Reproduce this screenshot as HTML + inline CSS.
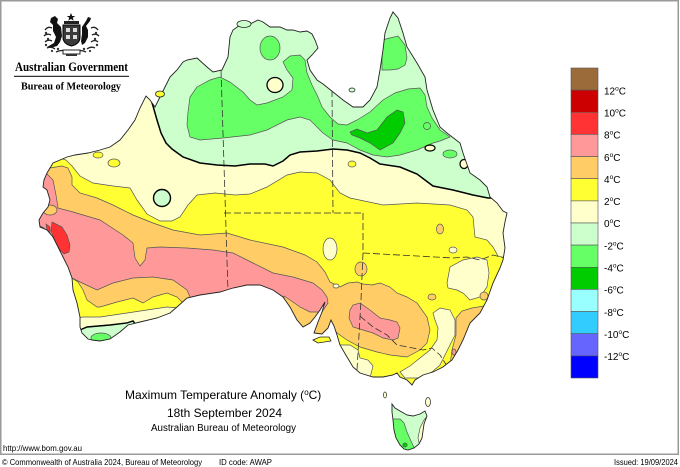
<!DOCTYPE html>
<html><head><meta charset="utf-8"><style>
html,body{margin:0;padding:0;background:#fff;}
svg{display:block;}
</style></head><body>
<svg width="680" height="467" viewBox="0 0 680 467" xmlns="http://www.w3.org/2000/svg">
<defs>
<clipPath id="aus"><path id="ausp" d="M80,327 L80,317 L77,303 L73,290 L72,278 L68,267 L63,257 L58,247 L53,237 L47,230 L40,227 L39,220 L43,213 L48,207 L50,200 L47,190 L43,187 L44,180 L47,173 L50,168 L53,163 L60,160 L67,157 L75,155 L88,153 L100,150 L110,147 L120,140 L128,130 L135,120 L140,108 L146,96 L150,100 L155,107 L160,97 L165,87 L170,77 L177,70 L183,62 L187,60 L197,58 L207,67 L213,72 L222,70 L228,57 L230,37 L233,30 L240,25 L250,24 L258,20 L263,22 L270,27 L280,27 L287,30 L293,30 L300,32 L307,31 L312,34 L315,40 L318,48 L312,55 L307,60 L310,70 L317,80 L323,84 L333,92 L343,100 L353,107 L363,107 L370,100 L377,87 L380,70 L383,50 L385,33 L390,18 L393,12 L398,18 L403,33 L407,47 L417,63 L425,77 L427,90 L433,110 L440,127 L447,133 L460,143 L463,153 L470,173 L480,180 L487,187 L490,197 L497,203 L503,211 L507,213 L505,222 L503,233 L505,248 L503,260 L500,268 L493,283 L487,300 L480,313 L470,323 L463,340 L458,350 L452,360 L448,363 L443,367 L433,372 L423,375 L415,380 L412,385 L407,380 L400,377 L397,373 L393,375 L383,377 L373,377 L360,373 L353,367 L347,357 L340,345 L337,335 L334,326 L331,320 L328,328 L322,334 L314,333 L318,322 L322,312 L325,302 L320,310 L315,317 L310,323 L303,327 L297,320 L290,307 L283,297 L273,290 L260,285 L247,285 L233,288 L220,292 L200,295 L187,298 L177,307 L170,313 L157,318 L140,322 L128,325 L120,332 L110,339 L100,341 L92,340 L88,339 L82,333 Z"/></clipPath>
<clipPath id="tas"><path d="M392,404 L395,408 L400,411 L407,415 L413,416 L420,414 L425,411 L427,416 L424,424 L422,438 L419,444 L414,448 L408,450 L404,449 L400,445 L396,438 L394,430 L393,420 L392,412 Z"/></clipPath>
</defs>

<!-- frame -->
<rect x="0.75" y="0.75" width="677.5" height="453.5" fill="#fff" stroke="#9a9a9a" stroke-width="1.5"/>

<!-- coat of arms -->
<g>
<polygon points="71,13 72.2,16 75.2,16 72.8,17.8 73.7,20.8 71,19 68.3,20.8 69.2,17.8 66.8,16 69.8,16" fill="#111"/>
<rect x="64" y="21" width="15" height="3" fill="#222"/>
<path d="M63,25 H80 V37 Q80,44 71.5,46 Q63,44 63,37 Z" fill="#3a3a3a" stroke="#000" stroke-width="1"/>
<path d="M66,28 H70 V32 H66 Z M73,28 H77 V32 H73 Z M66,35 H70 V39 H66 Z M73,35 H77 V39 H73 Z" fill="#ddd"/>
<path d="M51,18 L55,16 L58,19 L57,23 L61,27 L62,36 L60,42 L57,46 L50,48 L47,47 L54,43 L56,37 L53,31 L53,25 L50,22 Z" fill="#111"/>
<path d="M88,17 L91,18 L90,21 L86,26 L88,30 L88,37 L85,43 L82,45 L81,41 L82,34 L82,27 L86,21 Z" fill="#111"/>
<path d="M45,30 Q48,26 52,28 M44,36 Q47,33 51,35 M45,42 Q48,39 52,41 M47,48 Q51,46 55,49 M98,30 Q95,26 91,28 M99,36 Q96,33 92,35 M98,42 Q95,39 91,42 M95,48 Q91,46 87,49 M56,52 Q62,49 68,52 M74,52 Q80,49 86,52" stroke="#222" stroke-width="1.3" fill="none"/>
<g fill="#333"><circle cx="46" cy="33" r="1.2"/><circle cx="48" cy="39" r="1.2"/><circle cx="46" cy="45" r="1.2"/><circle cx="96" cy="33" r="1.2"/><circle cx="95" cy="39" r="1.2"/><circle cx="97" cy="45" r="1.2"/><circle cx="58" cy="49" r="1.2"/><circle cx="84" cy="49" r="1.2"/><circle cx="52" cy="51" r="1.1"/><circle cx="90" cy="51" r="1.1"/></g>
<rect x="63" y="50" width="17" height="4" fill="#fff" stroke="#111" stroke-width="0.9"/>
<rect x="66" y="54" width="11" height="2" fill="#333"/>
</g>
<text x="15" y="71" font-family="Liberation Serif, serif" font-weight="bold" font-size="12.5" textLength="113" lengthAdjust="spacingAndGlyphs" fill="#000">Australian Government</text>
<rect x="14" y="75.8" width="115" height="1" fill="#000"/>
<text x="21" y="89.3" font-family="Liberation Serif, serif" font-weight="bold" font-size="10.5" textLength="100" lengthAdjust="spacingAndGlyphs" fill="#000">Bureau of Meteorology</text>

<!-- mainland -->
<g clip-path="url(#aus)" stroke="#555" stroke-width="0.7">
<rect x="0" y="0" width="560" height="460" fill="#ffffcc" stroke="none"/>
<!-- light green north of 0 contour -->
<path d="M140,0 L148,90 L153,106 L157,120 L161,133 L166,143 L172,149 L183,157 L200,163 L217,165 L235,166 L250,164 L265,164 L273,166 L283,161 L290,155 L300,152 L317,151 L333,149 L347,150 L360,153 L370,158 L380,164 L400,167 L417,174 L433,186 L453,190 L473,195 L488,198 L520,198 L520,0 Z" fill="#ccffcc" stroke="#000" stroke-width="1.5"/>
<!-- medium green -->
<path d="M188,112 L190,97 L197,87 L210,80 L220,77 L230,82 L243,92 L250,100 L257,105 L267,103 L283,97 L292,90 L293,78 L287,70 L283,62 L290,56 L300,55 L305,60 L307,73 L312,85 L318,97 L322,107 L330,117 L338,124 L347,125 L357,120 L370,112 L383,100 L395,93 L408,89 L420,88 L425,95 L427,107 L432,118 L440,130 L450,137 L440,141 L433,143 L417,150 L400,155 L387,157 L373,155 L360,150 L347,143 L333,140 L323,133 L310,120 L300,117 L287,120 L267,130 L250,135 L223,138 L200,140 L190,137 L187,125 Z" fill="#66ff66"/>
<ellipse cx="270" cy="48" rx="10" ry="12" fill="#66ff66"/>
<path d="M382,40 L390,38 L398,36 L405,45 L407,58 L405,65 L398,69 L390,70 L382,70 Z" fill="#66ff66"/>
<ellipse cx="427" cy="126" rx="3.5" ry="3.5" fill="#66ff66"/>
<ellipse cx="450" cy="154" rx="7" ry="4" fill="#66ff66"/>
<!-- dark green -->
<path d="M352,135 L350,132 L357,129 L367,133 L377,130 L387,117 L397,110 L403,112 L405,123 L400,133 L393,143 L380,150 L370,143 L360,138 Z" fill="#00cc00"/>
<!-- cream blobs in green -->
<ellipse cx="275" cy="85" rx="8" ry="7.5" fill="#ffffcc" stroke="#000" stroke-width="1.3"/>
<ellipse cx="430" cy="148" rx="5" ry="3" fill="#ffffcc" stroke="#000" stroke-width="1.2"/>
<ellipse cx="464" cy="164" rx="4" ry="4.5" fill="#ffffcc" stroke="#000" stroke-width="1.2"/>
<!-- yellow main -->
<path d="M30,150 L60,158 L66,160 L72,166 L80,176 L93,183 L113,186 L130,188 L137,200 L147,214 L160,221 L172,221 L180,217 L188,205 L197,195 L215,193 L235,195 L250,194 L267,187 L287,175 L300,172 L317,173 L330,180 L340,193 L350,198 L383,205 L417,203 L450,205 L467,210 L473,217 L475,237 L487,240 L493,247 L498,256 L520,262 L520,470 L30,470 Z" fill="#ffff33"/>
<!-- light green circle in cream -->
<circle cx="162" cy="198" r="8.5" fill="#ccffcc" stroke="#000" stroke-width="1.4"/>
<!-- small yellow blobs -->
<ellipse cx="98" cy="155" rx="5" ry="3" fill="#ffff33"/>
<ellipse cx="114" cy="163" rx="6" ry="4" fill="#ffff33"/>
<ellipse cx="352" cy="164" rx="4" ry="3" fill="#ffff33"/>
<!-- orange band -->
<path d="M30,165 L50,168 L62,166 L68,168 L72,177 L72,185 L80,193 L97,198 L113,205 L133,215 L153,223 L173,230 L200,235 L227,233 L250,240 L283,247 L305,255 L317,262 L325,272 L330,282 L340,287 L348,283 L357,282 L363,284 L372,285 L380,283 L390,287 L397,293 L407,297 L417,303 L427,317 L430,330 L427,343 L420,350 L407,357 L390,355 L377,352 L360,347 L347,340 L337,333 L332,327 L345,380 L300,380 L190,340 L183,303 L177,297 L167,293 L153,297 L143,303 L133,298 L117,302 L100,307 L97,307 L87,300 L83,290 L78,282 L70,277 L30,277 Z" fill="#ffcc66"/>
<!-- pink band -->
<path d="M30,172 L45,172 L53,180 L56,195 L58,208 L73,212 L100,220 L123,235 L133,243 L135,258 L140,266 L145,260 L147,248 L160,247 L187,248 L213,250 L233,253 L253,263 L273,273 L293,277 L313,283 L322,290 L327,297 L328,303 L322,312 L310,312 L300,307 L290,300 L284,296 L284,310 L190,310 L190,297 L187,290 L173,280 L153,277 L133,278 L113,283 L97,290 L80,282 L70,277 L30,277 Z" fill="#ff9999"/>
<ellipse cx="50" cy="210" rx="7" ry="5" fill="#ffcc66"/>
<!-- red shark bay -->
<path d="M52,222 L62,227 L67,235 L70,245 L69,252 L64,254 L60,250 L55,241 L51,231 Z" fill="#ff3333"/>
<path d="M40,226 L44,228 L46,234 L42,233 Z M46,224 L50,227 L50,233 L47,230 Z" fill="#ff3333"/>
<!-- pink SA blob -->
<path d="M349,318 L350,310 L353,305 L360,303 L370,310 L380,318 L390,320 L397,322 L400,328 L398,338 L393,340 L383,338 L373,333 L363,330 L353,327 Z" fill="#ff9999"/>
<!-- SW cream & green -->
<path d="M60,320 L83,317 L100,317 L127,313 L147,310 L167,307 L180,308 L200,330 L150,360 L60,360 Z" fill="#ffffcc"/>
<path d="M70,333 L80,330 L87,327 L110,325 L127,323 L133,321 L140,330 L130,360 L70,360 Z" fill="#ccffcc" stroke="#000" stroke-width="1.4"/>
<ellipse cx="101" cy="338" rx="10" ry="5" fill="#66ff66"/>
<!-- SE cream -->
<path d="M447,283 L450,267 L463,260 L477,257 L487,260 L489,273 L487,287 L480,297 L470,300 L463,293 L457,290 L448,288 Z" fill="#ffffcc"/>
<path d="M433,313 L440,308 L450,310 L455,320 L455,335 L450,345 L445,355 L440,365 L432,372 L420,378 L405,378 L400,372 L410,366 L420,358 L430,350 L437,340 L438,328 L435,320 Z" fill="#ffffcc"/>
<path d="M340,345 L350,345 L358,350 L360,358 L368,360 L373,366 L370,378 L355,378 L343,358 Z" fill="#ffffcc"/>
<path d="M456,318 L462,311 L472,308 L490,305 L495,320 L470,365 L450,365 L452,350 L456,335 Z" fill="#ffcc66"/>
<ellipse cx="454" cy="352" rx="2" ry="3" fill="#ff9999"/>
<!-- small blobs -->
<ellipse cx="330" cy="249" rx="7" ry="11" fill="#ffffcc"/>
<ellipse cx="453" cy="250" rx="4" ry="3" fill="#ffffcc"/>
<ellipse cx="336" cy="286" rx="3" ry="2" fill="#ffffcc"/>
<ellipse cx="440" cy="229" rx="3.5" ry="5" fill="#ffcc66"/>
<ellipse cx="361" cy="269" rx="6" ry="7" fill="#ffcc66"/>
<ellipse cx="432" cy="297" rx="4" ry="3" fill="#ffcc66"/>
<ellipse cx="484" cy="296" rx="4" ry="4" fill="#ffcc66"/>
<!-- state borders -->
<g stroke="#333" stroke-width="0.8" fill="none" stroke-dasharray="7,3">
<path d="M221,70 L228,292"/>
<path d="M224,213 L363,213"/>
<path d="M332,90 L333,213"/>
<path d="M363,213 L363,253 L361,300 L357,370"/>
<path d="M363,253 L417,256 L453,258 L467,257 L480,260 L493,255 L505,258"/>
<path d="M360,316 L373,327 L387,335 L397,345 L413,348 L423,350 L432,348 L440,355 L447,366"/>
</g>
</g>
<!-- coastline -->
<use href="#ausp" fill="none" stroke="#222" stroke-width="0.9"/>
<!-- islands -->
<path d="M313,340 L320,337 L329,337 L331,341 L318,343 Z" fill="#ffff33" stroke="#222" stroke-width="0.8"/>
<ellipse cx="160" cy="94" rx="4.5" ry="3" fill="#ffff33" stroke="#222" stroke-width="0.8"/>
<ellipse cx="244" cy="24" rx="7" ry="3.5" fill="#ccffcc" stroke="#222" stroke-width="0.8"/>
<ellipse cx="352" cy="90" rx="3" ry="2" fill="#ccffcc" stroke="#222" stroke-width="0.7"/>

<!-- Tasmania -->
<g clip-path="url(#tas)" stroke="#555" stroke-width="0.7">
<rect x="385" y="400" width="50" height="55" fill="#ccffcc" stroke="none"/>
<path d="M388,419 L400,419 L404,423 L407,432 L411,441 L416,452 L388,454 Z" fill="#66ff66"/>
<path d="M429,414 L424,420 L420,428 L418,438 L420,447 L432,447 L432,414 Z" fill="#ffffcc"/>
<ellipse cx="405" cy="445" rx="2.2" ry="2" fill="#00cc00"/>
</g>
<path d="M392,404 L395,408 L400,411 L407,415 L413,416 L420,414 L425,411 L427,416 L424,424 L422,438 L419,444 L414,448 L408,450 L404,449 L400,445 L396,438 L394,430 L393,420 L392,412 Z" fill="none" stroke="#222" stroke-width="0.9"/>
<ellipse cx="385" cy="395" rx="1.5" ry="3" fill="#ffffcc" stroke="#222" stroke-width="0.7"/>
<ellipse cx="428" cy="402" rx="2.5" ry="4.5" fill="#ffffcc" stroke="#222" stroke-width="0.7"/>

<!-- legend -->
<g stroke="#555" stroke-width="0.6">
<rect x="571" y="68" width="27" height="22.1" fill="#9c6b3a"/>
<rect x="571" y="90.1" width="27" height="22.2" fill="#cc0000"/>
<rect x="571" y="112.3" width="27" height="22.1" fill="#ff3333"/>
<rect x="571" y="134.4" width="27" height="22.2" fill="#ff9999"/>
<rect x="571" y="156.6" width="27" height="22.1" fill="#ffcc66"/>
<rect x="571" y="178.7" width="27" height="22.2" fill="#ffff33"/>
<rect x="571" y="200.9" width="27" height="22.1" fill="#ffffcc"/>
<rect x="571" y="223" width="27" height="22.1" fill="#ccffcc"/>
<rect x="571" y="245.1" width="27" height="22.2" fill="#66ff66"/>
<rect x="571" y="267.3" width="27" height="22.1" fill="#00cc00"/>
<rect x="571" y="289.4" width="27" height="22.2" fill="#99ffff"/>
<rect x="571" y="311.6" width="27" height="22.1" fill="#33ccff"/>
<rect x="571" y="333.7" width="27" height="22.2" fill="#6666ff"/>
<rect x="571" y="355.9" width="27" height="22.1" fill="#0000ff"/>
</g>
<g font-family="Liberation Sans, Arial, sans-serif" font-size="10" fill="#000">
<text x="604" y="94.5">12<tspan font-size="6.5" dy="-4">o</tspan><tspan dy="4">C</tspan></text>
<text x="604" y="116.5">10<tspan font-size="6.5" dy="-4">o</tspan><tspan dy="4">C</tspan></text>
<text x="604" y="138.5">8<tspan font-size="6.5" dy="-4">o</tspan><tspan dy="4">C</tspan></text>
<text x="604" y="160.8">6<tspan font-size="6.5" dy="-4">o</tspan><tspan dy="4">C</tspan></text>
<text x="604" y="182.9">4<tspan font-size="6.5" dy="-4">o</tspan><tspan dy="4">C</tspan></text>
<text x="604" y="205.1">2<tspan font-size="6.5" dy="-4">o</tspan><tspan dy="4">C</tspan></text>
<text x="604" y="227.2">0<tspan font-size="6.5" dy="-4">o</tspan><tspan dy="4">C</tspan></text>
<text x="604" y="249.3">-2<tspan font-size="6.5" dy="-4">o</tspan><tspan dy="4">C</tspan></text>
<text x="604" y="271.5">-4<tspan font-size="6.5" dy="-4">o</tspan><tspan dy="4">C</tspan></text>
<text x="604" y="293.6">-6<tspan font-size="6.5" dy="-4">o</tspan><tspan dy="4">C</tspan></text>
<text x="604" y="315.8">-8<tspan font-size="6.5" dy="-4">o</tspan><tspan dy="4">C</tspan></text>
<text x="604" y="337.9">-10<tspan font-size="6.5" dy="-4">o</tspan><tspan dy="4">C</tspan></text>
<text x="604" y="360.1">-12<tspan font-size="6.5" dy="-4">o</tspan><tspan dy="4">C</tspan></text>
</g>

<!-- titles -->
<g font-family="Liberation Sans, Arial, sans-serif" fill="#000">
<text x="125" y="399" font-size="12">Maximum Temperature Anomaly (<tspan font-size="8" dy="-4">o</tspan><tspan dy="4">C)</tspan></text>
<text x="167" y="417" font-size="12" textLength="115" lengthAdjust="spacingAndGlyphs">18th September 2024</text>
<text x="151" y="431" font-size="10" textLength="145" lengthAdjust="spacingAndGlyphs">Australian Bureau of Meteorology</text>
<text x="3" y="451" font-size="8.5" textLength="79" lengthAdjust="spacingAndGlyphs">http://www.bom.gov.au</text>
<text x="2" y="465" font-size="8.5" textLength="200" lengthAdjust="spacingAndGlyphs">© Commonwealth of Australia 2024, Bureau of Meteorology</text>
<text x="219" y="465" font-size="8.5" textLength="53" lengthAdjust="spacingAndGlyphs">ID code: AWAP</text>
<text x="614" y="465" font-size="8.5" textLength="64" lengthAdjust="spacingAndGlyphs">Issued: 19/09/2024</text>
</g>
</svg>
</body></html>
